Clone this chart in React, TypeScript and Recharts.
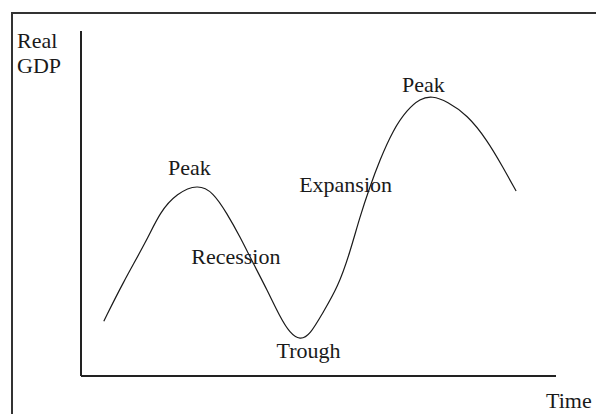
import { LineChart, Line, XAxis, YAxis, ReferenceDot, Label } from "recharts";

// time (0-100) and real GDP (0-100)
const time = [4.8, 8.8, 13.9, 16.6, 20.2, 24.6, 27.8, 30.7, 33.5, 36.2, 39.2, 41.9, 44.0, 46.1, 48.2, 50.9, 54.1, 56.6, 58.7, 60.8, 62.9, 65.7, 68.6, 71.4, 73.9, 77.1, 81.3, 85.5, 88.8, 91.6];
const gdp = [15.9, 27.0, 39.4, 47.5, 53.0, 55.6, 53.3, 47.2, 40.3, 32.8, 24.9, 17.1, 12.4, 10.4, 11.9, 18.3, 25.8, 35.7, 46.1, 54.8, 62.6, 71.3, 77.1, 80.4, 81.2, 79.6, 75.7, 68.4, 60.6, 53.6];

// phase labels and where they sit (text baseline, in data units)
const phaseNames = ["Peak", "Recession", "Trough", "Expansion", "Peak"];
const phaseTime = [22.8, 32.6, 47.9, 55.7, 72.1];
const phaseGdp = [58.3, 32.5, 5.2, 53.4, 82.3];

const data = time.map((t, i) => ({ t, gdp: gdp[i] }));

const font = "'Liberation Serif', 'Times New Roman', serif";
const ink = "#1a1a1a";

const textLabel = (text: string) => (props: any) => {
  const { cx, cy } = props.viewBox ?? {};
  const x = cx ?? props.viewBox.x;
  const y = cy ?? props.viewBox.y;
  return (
    <text x={x} y={y} textAnchor="middle" fontFamily={font} fontSize={22} fill={ink}>
      {text}
    </text>
  );
};

export default function App() {
  return (
    <div style={{ position: "absolute", left: 0, top: 0, width: 596, height: 414, background: "#fff", overflow: "hidden" }}>
      <div
        style={{
          position: "absolute",
          left: 11,
          top: 12,
          width: 600,
          height: 420,
          borderTop: "2px solid #333",
          borderLeft: "2px solid #333",
        }}
      />
      <LineChart width={596} height={414} data={data} margin={{ top: 31, right: 40, bottom: 37, left: 80 }} style={{ position: "absolute", left: 0, top: 0 }}>
        <XAxis
          dataKey="t"
          type="number"
          domain={[0, 100]}
          height={1}
          tick={false}
          tickLine={false}
          axisLine={{ stroke: "#222", strokeWidth: 2 }}
        >
          <Label
            content={(p: any) => (
              <text x={p.viewBox.x + 465} y={p.viewBox.y + 32} fontFamily={font} fontSize={22} fill={ink}>
                Time
              </text>
            )}
          />
        </XAxis>
        <YAxis
          type="number"
          domain={[0, 100]}
          width={1}
          tick={false}
          tickLine={false}
          axisLine={{ stroke: "#222", strokeWidth: 2 }}
        >
          <Label
            content={(p: any) => (
              <text fontFamily={font} fontSize={22} fill={ink}>
                <tspan x={p.viewBox.x - 63} y={48}>Real</tspan>
                <tspan x={p.viewBox.x - 63} y={73}>GDP</tspan>
              </text>
            )}
          />
        </YAxis>
        <Line
          type="basis"
          dataKey="gdp"
          stroke={ink}
          strokeWidth={1.2}
          dot={false}
          activeDot={false}
          isAnimationActive={false}
        />
        {phaseNames.map((name, i) => (
          <ReferenceDot
            key={i}
            x={phaseTime[i]}
            y={phaseGdp[i]}
            r={0}
            stroke="none"
            fill="none"
            ifOverflow="visible"
            label={textLabel(name)}
          />
        ))}
      </LineChart>
    </div>
  );
}
